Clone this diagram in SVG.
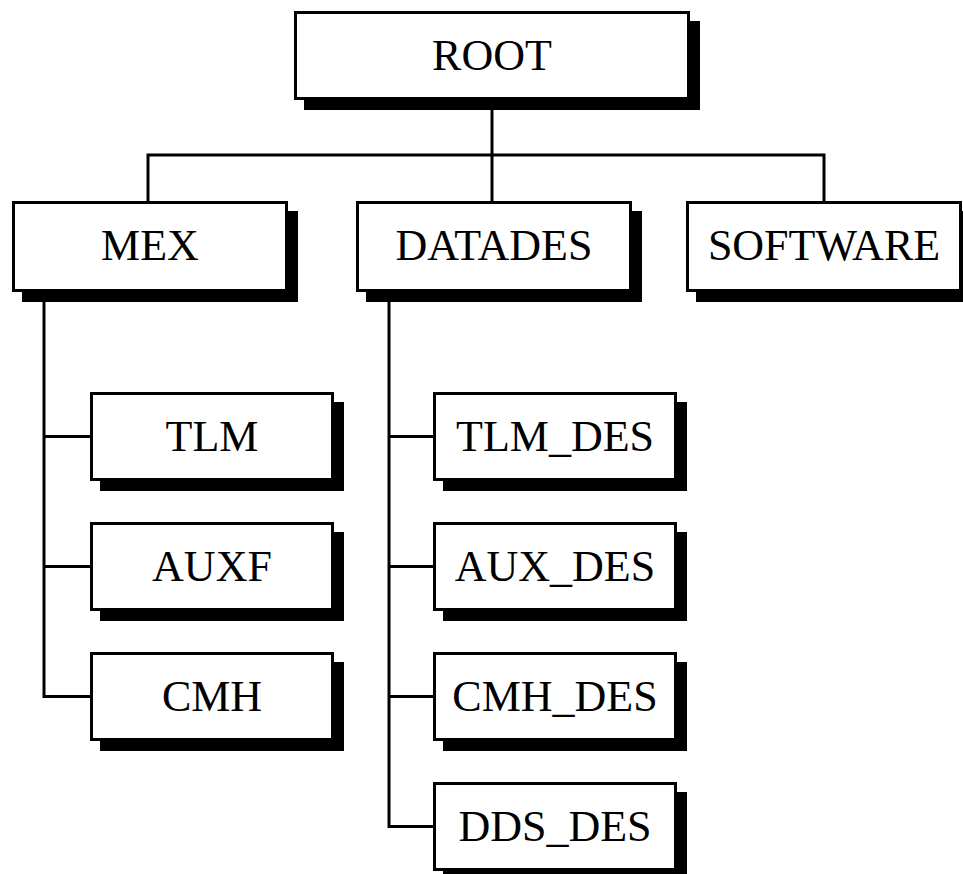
<svg xmlns="http://www.w3.org/2000/svg" width="963" height="874" viewBox="0 0 963 874">
<style>
.box{fill:#fff;stroke:#000;stroke-width:3}
.sh{fill:#000}
.lbl{font-family:"Liberation Serif","Times New Roman",serif;font-size:44px;fill:#000;text-anchor:middle}
.con{fill:none;stroke:#000;stroke-width:3;stroke-linejoin:miter;stroke-linecap:square}
</style>
<rect width="963" height="874" fill="#fff"/>
<g id="connectors">
<path class="con" d="M492 100V155M148 201V155H824V201M492 155V201"/>
<path class="con" d="M44 292V696.5H90M44 436.5H90M44 566.5H90"/>
<path class="con" d="M389 292V826.5H433M389 436.5H433M389 566.5H433M389 696.5H433"/>
</g>
<g id="root">
<rect class="sh" x="304" y="21" width="396" height="89"/>
<rect class="box" x="295.5" y="12.5" width="393" height="86"/>
<text class="lbl" x="492" y="70">ROOT</text>
</g>
<g id="mex">
<rect class="sh" x="22" y="211" width="276" height="91"/>
<rect class="box" x="13.5" y="202.5" width="273" height="88"/>
<text class="lbl" x="150" y="260">MEX</text>
</g>
<g id="datades">
<rect class="sh" x="366" y="211" width="276" height="91"/>
<rect class="box" x="357.5" y="202.5" width="273" height="88"/>
<text class="lbl" x="494" y="260">DATADES</text>
</g>
<g id="software">
<rect class="sh" x="696" y="211" width="276" height="91"/>
<rect class="box" x="687.5" y="202.5" width="273" height="88"/>
<text class="lbl" x="824" y="260">SOFTWARE</text>
</g>
<g id="tlm">
<rect class="sh" x="100" y="402" width="244" height="89"/>
<rect class="box" x="91.5" y="393.5" width="241" height="86"/>
<text class="lbl" x="212" y="451">TLM</text>
</g>
<g id="auxf">
<rect class="sh" x="100" y="532" width="244" height="89"/>
<rect class="box" x="91.5" y="523.5" width="241" height="86"/>
<text class="lbl" x="212" y="581">AUXF</text>
</g>
<g id="cmh">
<rect class="sh" x="100" y="662" width="244" height="89"/>
<rect class="box" x="91.5" y="653.5" width="241" height="86"/>
<text class="lbl" x="212" y="711">CMH</text>
</g>
<g id="tlm_des">
<rect class="sh" x="443" y="402" width="244" height="89"/>
<rect class="box" x="434.5" y="393.5" width="241" height="86"/>
<text class="lbl" x="555" y="451">TLM_DES</text>
</g>
<g id="aux_des">
<rect class="sh" x="443" y="532" width="244" height="89"/>
<rect class="box" x="434.5" y="523.5" width="241" height="86"/>
<text class="lbl" x="555" y="581">AUX_DES</text>
</g>
<g id="cmh_des">
<rect class="sh" x="443" y="662" width="244" height="89"/>
<rect class="box" x="434.5" y="653.5" width="241" height="86"/>
<text class="lbl" x="555" y="711">CMH_DES</text>
</g>
<g id="dds_des">
<rect class="sh" x="443" y="792" width="244" height="89"/>
<rect class="box" x="434.5" y="783.5" width="241" height="86"/>
<text class="lbl" x="555" y="841">DDS_DES</text>
</g>
</svg>
